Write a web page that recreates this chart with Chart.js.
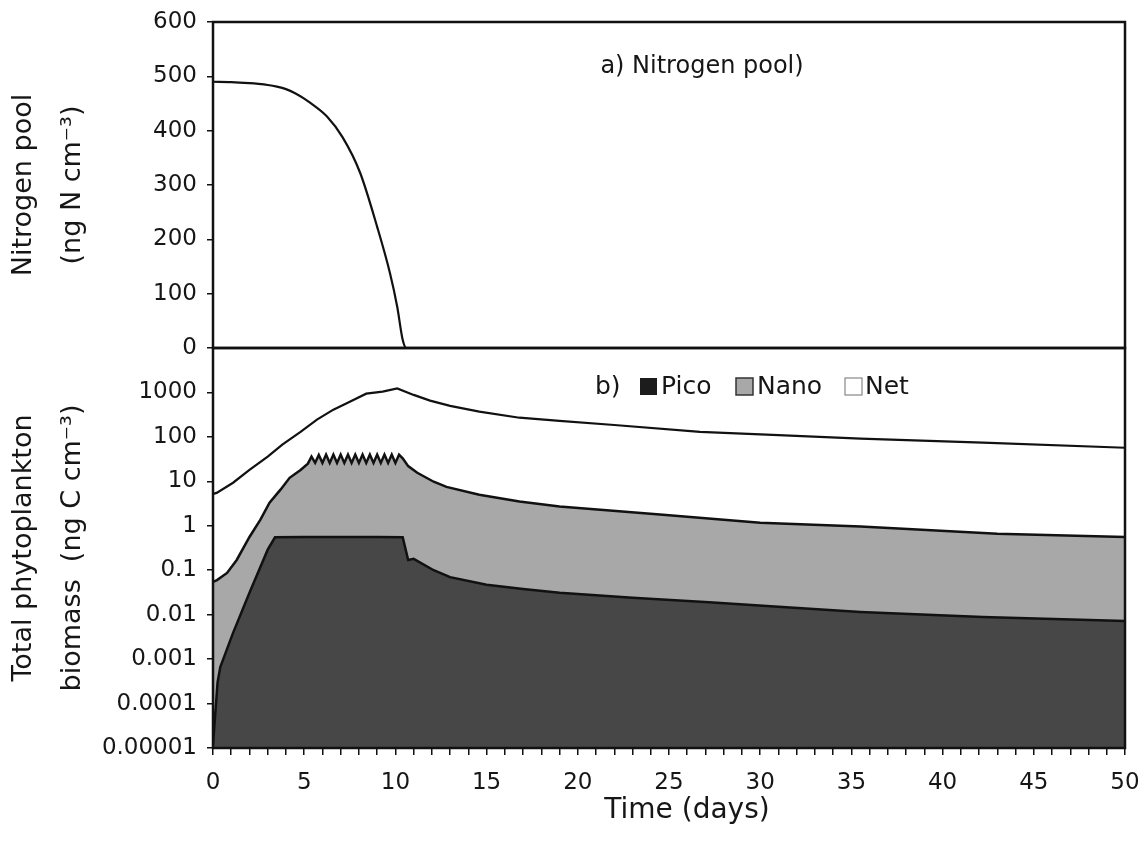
<!DOCTYPE html>
<html><head><meta charset="utf-8">
<script src="https://cdn.jsdelivr.net/npm/chart.js@4/dist/chart.umd.min.js"></script>
<style>
html,body{margin:0;padding:0;background:#fff;}
#wrap{position:relative;width:1148px;height:847px;overflow:hidden;background:#fff;}
canvas{position:absolute;left:0;}
#topChart{top:0;}
#botChart{top:340px;}
</style></head><body>
<div id="wrap"><canvas id="topChart" width="1148" height="366"></canvas><canvas id="botChart" width="1148" height="507"></canvas></div>
<script>
// ---- Data ----
const nitrogenDays   = [0, 1, 2, 2.5, 3, 3.5, 4, 4.5, 5, 5.3, 6.25, 7.1, 8.06, 9.0, 9.7, 10.1, 10.4, 10.6, 15, 20, 25, 30, 35, 40, 45, 50];
const nitrogenValues = [490, 489.5, 487.5, 486, 484, 481, 476.5, 469, 459, 452, 426, 388, 323, 223, 138, 76, 15, 0, 0, 0, 0, 0, 0, 0, 0, 0];

const picoDays   = [0, 0.25, 0.4, 1.1, 2.0, 3.0, 3.4, 5, 7, 9, 10.4, 10.7, 11.0, 12.1, 13, 15, 17, 19, 23, 27.2, 31, 35.5, 42.2, 50];
const picoValues = [0.000012, 0.0003, 0.00066, 0.0039, 0.031, 0.29, 0.55, 0.56, 0.56, 0.56, 0.55, 0.17, 0.18, 0.10, 0.07, 0.047, 0.038, 0.031, 0.024, 0.019, 0.015, 0.0115, 0.0089, 0.0072];

const nanoDays   = [0, 0.22, 0.77, 1.3, 2.0, 2.6, 3.1, 3.7, 4.2, 4.8, 5.2,
  5.4, 5.6, 5.8, 6.0, 6.2, 6.4, 6.6, 6.8, 7.0, 7.2, 7.4, 7.6, 7.8, 8.0, 8.2, 8.4, 8.6, 8.8, 9.0, 9.2, 9.4, 9.6, 9.8, 10.0, 10.2,
  10.4, 10.7, 11.2, 12.1, 12.8, 14.6, 16.8, 19.0, 24.5, 30, 35.5, 43, 50];
const nanoValues = [0.055, 0.060, 0.087, 0.17, 0.56, 1.37, 3.3, 6.5, 12, 18, 25,
  36, 26, 39, 26, 40, 26, 40, 26, 40, 26, 40, 26, 40, 26, 40, 26, 40, 26, 40, 26, 40, 26, 40, 26, 40,
  33, 22, 15.6, 9.8, 7.5, 5.0, 3.5, 2.7, 1.8, 1.17, 0.96, 0.66, 0.56];

const totalDays   = [0, 0.2, 1.1, 2.0, 3.0, 3.8, 4.8, 5.7, 6.6, 7.5, 8.4, 9.3, 10.1, 11.0, 11.9, 13, 14.6, 16.8, 19, 22, 26.7, 31, 35.5, 42.2, 50];
const totalValues = [5.2, 5.5, 9.3, 18, 36, 67, 130, 245, 410, 620, 940, 1040, 1230, 880, 655, 500, 370, 270, 230, 185, 130, 110, 91, 74, 57];

const seriesNames = ['Pico', 'Nano', 'Net'];
const nitrogenTicks = [0, 100, 200, 300, 400, 500, 600];
const bioTickValues = [0.00001, 0.0001, 0.001, 0.01, 0.1, 1, 10, 100, 1000];
const bioTickLabels = ['0.00001', '0.0001', '0.001', '0.01', '0.1', '1', '10', '100', '1000'];
const dayLabelStep = 5;

// ---- Styling ----
const FONT = "'DejaVu Sans', sans-serif";
const INK = '#161616';
const PICO_FILL = '#474747';
const NANO_FILL = '#a8a8a8';
Chart.defaults.font.family = FONT;
Chart.defaults.color = INK;

const pts = (xs, ys) => xs.map((x, i) => ({x, y: ys[i]}));
const fitY = s => { s.width = 213; s.paddingTop = 0; s.paddingBottom = 0; };
const fitX = h => s => { s.height = h; s.paddingLeft = 0; s.paddingRight = 0; };

const boxPlugin = {
  id: 'box',
  afterDraw(chart) {
    const {ctx, chartArea: a} = chart;
    ctx.save();
    ctx.strokeStyle = '#111';
    ctx.lineWidth = 2.5;
    ctx.strokeRect(a.left, a.top, a.right - a.left, a.bottom - a.top);
    ctx.restore();
  }
};

// ---- Top panel: nitrogen pool ----
new Chart(document.getElementById('topChart'), {
  type: 'line',
  data: {
    datasets: [{
      label: 'Nitrogen pool',
      data: pts(nitrogenDays, nitrogenValues),
      borderColor: '#111', borderWidth: 2.2, pointRadius: 0,
      fill: false, cubicInterpolationMode: 'monotone'
    }]
  },
  options: {
    responsive: false, animation: false,
    layout: {padding: {left: 0, top: 22, right: 23, bottom: 18}},
    plugins: {legend: {display: false}, tooltip: {enabled: false}},
    scales: {
      x: {type: 'linear', min: 0, max: 50, display: false},
      y: {
        type: 'linear', min: 0, max: 600,
        afterBuildTicks: s => { s.ticks = nitrogenTicks.map(v => ({value: v})); },
        afterFit: fitY,
        border: {display: false},
        grid: {display: true, drawOnChartArea: false, drawTicks: true, tickLength: 6, color: '#111', lineWidth: 1.5},
        ticks: {font: {size: 23}, color: INK, padding: 10},
        title: {display: true, text: ['Nitrogen pool', '(ng N cm\u207B\u00B3)'],
          font: {size: 27, lineHeight: 1.8}, color: INK, padding: {top: 0, bottom: 0}}
      }
    }
  },
  plugins: [boxPlugin, {
    id: 'panelA',
    afterDraw(chart) {
      const ctx = chart.ctx;
      ctx.save();
      ctx.font = '24px ' + FONT;
      ctx.fillStyle = INK;
      ctx.textAlign = 'center';
      ctx.textBaseline = 'middle';
      ctx.fillText('a) Nitrogen pool)', 702, 67);
      ctx.restore();
    }
  }]
});

// ---- Bottom panel: phytoplankton biomass ----
new Chart(document.getElementById('botChart'), {
  type: 'line',
  data: {
    datasets: [
      {label: seriesNames[0], data: pts(picoDays, picoValues), borderColor: '#111', borderWidth: 2.5,
       pointRadius: 0, fill: 'start', backgroundColor: PICO_FILL, tension: 0},
      {label: seriesNames[1], data: pts(nanoDays, nanoValues), borderColor: '#111', borderWidth: 2.5,
       pointRadius: 0, fill: 'start', backgroundColor: NANO_FILL, tension: 0},
      {label: seriesNames[2], data: pts(totalDays, totalValues), borderColor: '#111', borderWidth: 2.2,
       pointRadius: 0, fill: false, tension: 0}
    ]
  },
  options: {
    responsive: false, animation: false,
    layout: {padding: {left: 0, top: 8, right: 23, bottom: 0}},
    plugins: {legend: {display: false}, tooltip: {enabled: false}},
    scales: {
      x: {
        type: 'linear', min: 0, max: 50,
        afterFit: fitX(99),
        border: {display: false},
        grid: {display: true, drawOnChartArea: false, drawTicks: true, tickLength: 7, color: '#111', lineWidth: 1.5},
        ticks: {stepSize: 1, maxTicksLimit: 60, autoSkip: false, maxRotation: 0, minRotation: 0,
          font: {size: 23}, color: INK, padding: 14,
          callback: v => (v % dayLabelStep === 0 ? String(v) : '')}
      },
      y: {
        type: 'logarithmic', min: 0.00001, max: 10000,
        afterBuildTicks: s => { s.ticks = bioTickValues.map(v => ({value: v})); },
        afterFit: fitY,
        border: {display: false},
        grid: {display: true, drawOnChartArea: false, drawTicks: true, tickLength: 6, color: '#111', lineWidth: 1.5},
        ticks: {font: {size: 23}, color: INK, padding: 10,
          callback: v => { const i = bioTickValues.indexOf(v); return i >= 0 ? bioTickLabels[i] : ''; }},
        title: {display: true, text: ['Total phytoplankton', 'biomass  (ng C cm\u207B\u00B3)'],
          font: {size: 27, lineHeight: 1.8}, color: INK, padding: {top: 0, bottom: 0}}
      }
    }
  },
  plugins: [boxPlugin, {
    id: 'panelB',
    afterDraw(chart) {
      const ctx = chart.ctx;
      const cy = 47;
      ctx.save();
      ctx.font = '25px ' + FONT;
      ctx.fillStyle = INK;
      ctx.textBaseline = 'middle';
      ctx.textAlign = 'left';
      ctx.fillText('b)', 595, cy);
      ctx.fillStyle = '#1c1c1c';
      ctx.fillRect(640, cy - 9, 17, 17);
      ctx.fillStyle = INK;
      ctx.fillText(seriesNames[0], 661, cy);
      ctx.fillStyle = NANO_FILL;
      ctx.fillRect(736, cy - 9, 17, 17);
      ctx.strokeStyle = '#333'; ctx.lineWidth = 1.5;
      ctx.strokeRect(736, cy - 9, 17, 17);
      ctx.fillStyle = INK;
      ctx.fillText(seriesNames[1], 757, cy);
      ctx.fillStyle = '#fff';
      ctx.fillRect(845, cy - 9, 17, 17);
      ctx.strokeStyle = '#888'; ctx.lineWidth = 1.2;
      ctx.strokeRect(845, cy - 9, 17, 17);
      ctx.fillStyle = INK;
      ctx.fillText(seriesNames[2], 865, cy);
      ctx.font = '28px ' + FONT;
      ctx.textAlign = 'center';
      ctx.fillText('Time (days)', 687, 471);
      ctx.restore();
    }
  }]
});
</script>
</body></html>
